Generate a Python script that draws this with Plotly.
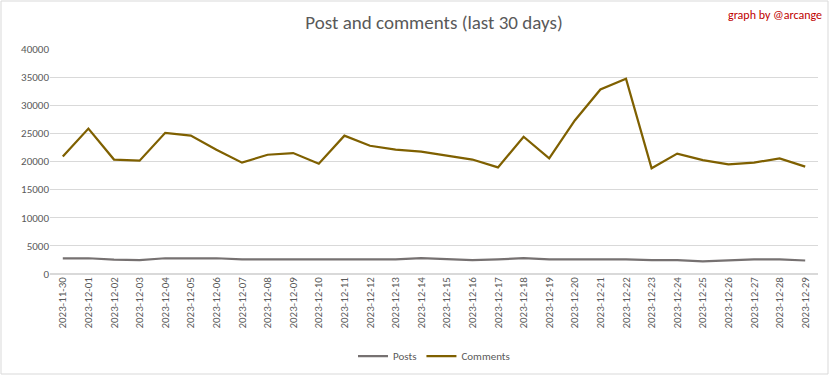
import plotly.graph_objects as go

dates = ["2023-11-30", "2023-12-01", "2023-12-02", "2023-12-03", "2023-12-04", "2023-12-05",
         "2023-12-06", "2023-12-07", "2023-12-08", "2023-12-09", "2023-12-10", "2023-12-11",
         "2023-12-12", "2023-12-13", "2023-12-14", "2023-12-15", "2023-12-16", "2023-12-17",
         "2023-12-18", "2023-12-19", "2023-12-20", "2023-12-21", "2023-12-22", "2023-12-23",
         "2023-12-24", "2023-12-25", "2023-12-26", "2023-12-27", "2023-12-28", "2023-12-29"]

posts = [2800, 2800, 2550, 2450, 2800, 2800, 2800, 2600, 2600, 2600, 2600, 2600,
         2600, 2600, 2800, 2600, 2450, 2600, 2800, 2600, 2600, 2600, 2600, 2450,
         2450, 2250, 2400, 2600, 2600, 2400]

comments = [20900, 25850, 20350, 20150, 25100, 24600, 22100, 19800, 21200, 21500, 19600, 24600,
            22800, 22100, 21750, 21100, 20350, 18950, 24400, 20550, 27300, 32800, 34700, 18800,
            21400, 20250, 19500, 19800, 20550, 19100]

W, H = 832, 378
ML, MR, MT, MB = 50, 14, 49, 104
FONT = "Carlito, Lato, Noto Sans, sans-serif"

fig = go.Figure()
fig.add_trace(go.Scatter(x=dates, y=posts, name="Posts", mode="lines",
                         line=dict(color="#767171", width=2.25)))
fig.add_trace(go.Scatter(x=dates, y=comments, name="Comments", mode="lines",
                         line=dict(color="#7F6000", width=2.25)))

pw = W - ML - MR
ph = H - MT - MB
fig.add_shape(type="rect", xref="paper", yref="paper",
              x0=(-ML + 1) / pw, x1=(W - ML - 4) / pw,
              y0=-(MB - 4) / ph, y1=(H - MB - 1) / ph,
              line=dict(color="#D9D9D9", width=1), fillcolor="rgba(0,0,0,0)", layer="below")

fig.update_layout(
    width=W, height=H,
    margin=dict(l=ML, r=MR, t=MT, b=MB, autoexpand=False),
    paper_bgcolor="white", plot_bgcolor="white",
    font=dict(family=FONT, color="#595959"),
    title=dict(text="Post and comments (last 30 days)", x=0.5, xanchor="center",
               xref="paper", y=1 - 22 / H, yanchor="middle",
               font=dict(size=19, color="#595959", family=FONT)),
    showlegend=True,
    legend=dict(orientation="h", x=0.5, xanchor="center", y=-(356 - 274) / ph, yanchor="middle",
                font=dict(size=11, color="#595959"), itemwidth=30),
    xaxis=dict(type="category", range=[-0.5, len(dates) - 0.5], tickangle=-90,
               showgrid=False, zeroline=False, showline=False, ticks="",
               tickfont=dict(size=11, color="#595959")),
    yaxis=dict(range=[0, 40000], dtick=5000, tickformat="d", showgrid=True,
               gridcolor="#D9D9D9", gridwidth=1,
               zeroline=True, zerolinecolor="#D9D9D9", showline=False, ticks="",
               tickfont=dict(size=11, color="#595959")),
    annotations=[dict(text="graph by @arcange", xref="paper", yref="paper",
                      x=(W - ML - 8) / pw, xanchor="right", y=(H - MB - 15) / ph, yanchor="middle",
                      showarrow=False, font=dict(size=12, color="#C00000", family=FONT))],
)

fig.write_html("out.html", config={"displayModeBar": False},
               post_script="document.body.style.margin='0';")
